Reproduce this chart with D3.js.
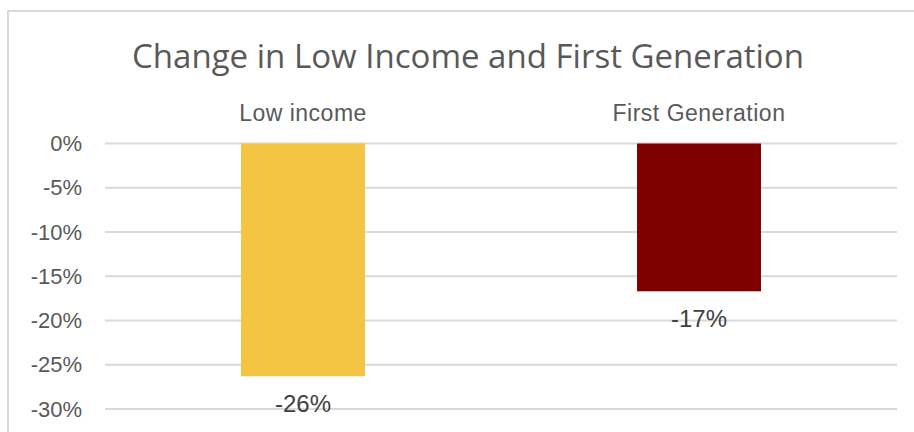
<!DOCTYPE html>
<html>
<head>
<meta charset="utf-8">
<script src="https://cdn.jsdelivr.net/npm/d3@7"></script>
<style>
  body { margin: 0; background: #fff; }
  text { font-family: 'Liberation Sans', Arial, sans-serif; }
</style>
</head>
<body>
<div id="svg"></div>
<script>
var w = 914;
var h = 432;

// data
var categories = ['Low income', 'First Generation'];
var changes = [-0.263, -0.167];
var barLabels = ['-26%', '-17%'];
var colors = ['#f4c542', '#800000'];
var yTicks = [0, -0.05, -0.10, -0.15, -0.20, -0.25, -0.30];

var border = { top: 143.5, bottom: 23, left: 105, right: 17 };

const svg = d3.select('#svg')
              .append('svg')
              .attr('width', w)
              .attr('height', h)

// chart frame (only top and left edges are visible in the crop)
svg.append('path')
    .attr('d', `M8,${h} L8,11 L${w},11`)
    .attr('fill', 'none')
    .attr('stroke', '#d9d9d9')
    .attr('stroke-width', 2)

svg.append('text')
    .attr('x', 468)
    .attr('y', 68)
    .attr('text-anchor', 'middle')
    .attr('textLength', 672)
    .attr('lengthAdjust', 'spacingAndGlyphs')
    .style('font-family', "'Open Sans', sans-serif")
    .style('font-size', '32px')
    .attr('fill', '#595959')
    .text('Change in Low Income and First Generation')

var x = d3.scaleBand()
          .domain(categories)
          .range([border.left, w - border.right])
          .paddingInner(0.687)
          .paddingOuter(0.3435)

var y = d3.scaleLinear()
          .domain([0, -0.30])
          .range([border.top, h - border.bottom])

// plain hyphen like the original, not d3's unicode minus
var pct = d => Math.round(d * 100) + '%';

// gridlines
svg.append('g')
    .selectAll('line')
    .data(yTicks)
    .enter()
      .append('line')
      .attr('x1', border.left)
      .attr('x2', w - border.right)
      .attr('y1', d => y(d))
      .attr('y2', d => y(d))
      .attr('stroke', '#d9d9d9')
      .attr('stroke-width', 2)

var yAxis = svg.append('g')
    .attr('transform', `translate(${border.left - 23}, 0)`)
    .call(d3.axisLeft(y).tickValues(yTicks).tickFormat(pct).tickSize(0).tickPadding(0))
yAxis.select('.domain').remove()
yAxis.selectAll('text')
    .attr('fill', '#595959')
    .style('font-size', '22px')
    .style('font-family', "'Liberation Sans', Arial, sans-serif")

// category labels sit above the plot
svg.append('g')
    .selectAll('text')
    .data(categories)
    .enter()
      .append('text')
      .attr('x', d => x(d) + x.bandwidth() / 2)
      .attr('y', 121)
      .attr('text-anchor', 'middle')
      .attr('fill', '#595959')
      .style('font-size', '23px')
      .style('letter-spacing', '0.5px')
      .text(d => d)

svg.append('g')
    .selectAll('rect')
    .data(categories)
    .enter()
      .append('rect')
      .attr('x', d => x(d))
      .attr('width', x.bandwidth())
      .attr('y', y(0))
      .attr('height', (d, i) => y(changes[i]) - y(0))
      .attr('fill', (d, i) => colors[i])

svg.append('g')
    .selectAll('text')
    .data(categories)
    .enter()
      .append('text')
      .attr('x', d => x(d) + x.bandwidth() / 2)
      .attr('y', (d, i) => y(changes[i]) + 36)
      .attr('text-anchor', 'middle')
      .attr('fill', '#404040')
      .style('font-size', '24px')
      .text((d, i) => barLabels[i])
</script>
</body>
</html>
